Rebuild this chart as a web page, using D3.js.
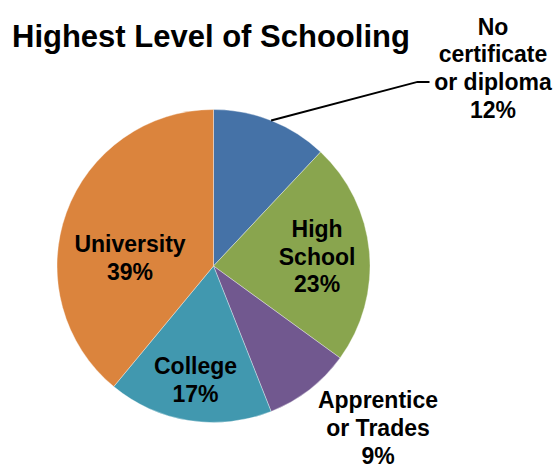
<!DOCTYPE html>
<html>
<head>
<meta charset="utf-8">
<script src="https://cdn.jsdelivr.net/npm/d3@7"></script>
<style>
  html, body { margin: 0; padding: 0; background: #fff; }
  svg { display: block; }
  text { font-family: "Liberation Sans", Arial, sans-serif; font-weight: bold; fill: #000; }
</style>
</head>
<body>
<svg id="chart" width="557" height="468"></svg>
<script>
// ---- data ----
const title = "Highest Level of Schooling";
const categories = ["No certificate or diploma", "High School", "Apprentice or Trades", "College", "University"];
const categoryLines = [["No", "certificate", "or diploma"], ["High", "School"], ["Apprentice", "or Trades"], ["College"], ["University"]];
const values = [12, 23, 9, 17, 39];
const colors = ["#4572A7", "#89A54E", "#71588F", "#4198AF", "#DB843D"];

// ---- layout ----
const W = 557, H = 468;
const cx = 213.5, cy = 266, R = 156.5;
const svg = d3.select("#chart");

svg.append("text")
  .attr("x", 12).attr("y", 47)
  .style("font-size", "31px")
  .text(title);

const pie = d3.pie().sort(null).value(d => d);
const arcs = pie(values);
const arc = d3.arc().innerRadius(0).outerRadius(R);
const total = d3.sum(values);
const fmt = v => Math.round(v / total * 100) + "%";

const g = svg.append("g").attr("transform", `translate(${cx},${cy})`);
g.selectAll("path").data(arcs).join("path")
  .attr("d", arc)
  .attr("fill", (d, i) => colors[i])
  .attr("stroke", "#ffffff")
  .attr("stroke-opacity", 0.5)
  .attr("stroke-width", 0.7);

// label placement: inside labels at a fraction of radius, outside ones with offsets
const lineH = 27.8;
const fontSize = 23;
function labelCenter(d, i) {
  const mid = (d.startAngle + d.endAngle) / 2;
  const a = d3.arc().innerRadius(0).outerRadius(R);
  if (i === 1) return d3.arc().innerRadius(R * 0.665).outerRadius(R * 0.665).centroid(d);
  if (i === 3) return d3.arc().innerRadius(R * 0.735).outerRadius(R * 0.735).centroid(d);
  if (i === 4) return [-83.5, -8];
  if (i === 0) return [279.5, -198];
  if (i === 2) return [164.5, 162];
  return a.centroid(d);
}

arcs.forEach((d, i) => {
  const lines = categoryLines[i].concat([fmt(values[i])]);
  const [lx, ly] = labelCenter(d, i);
  const n = lines.length;
  const t = g.append("text")
    .attr("text-anchor", "middle")
    .style("font-size", fontSize + "px");
  lines.forEach((s, k) => {
    t.append("tspan")
      .attr("x", lx)
      .attr("y", ly + (k - (n - 1) / 2) * lineH + fontSize * 0.36)
      .text(s);
  });
});

// leader line for the first slice
const d0 = arcs[0];
const p0 = d3.arc().innerRadius(R).outerRadius(R).centroid(d0);
const c0 = labelCenter(d0, 0);
const elbowY = c0[1] + lineH * 0.5 + 0;
const lead = [p0, [c0[0] - 75.5, elbowY - 0], [c0[0] - 63.5, elbowY]];
g.append("path")
  .attr("d", d3.line()(lead))
  .attr("fill", "none")
  .attr("stroke", "#000")
  .attr("stroke-width", 2);
</script>
</body>
</html>
